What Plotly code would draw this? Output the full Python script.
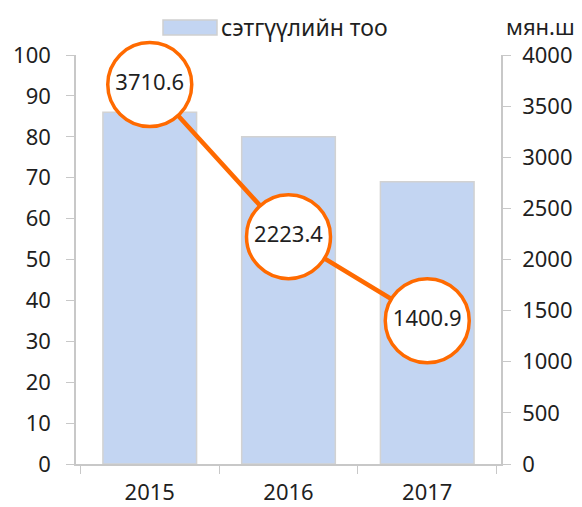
import plotly.graph_objects as go

years = ["2015", "2016", "2017"]
journal_counts = [86, 80, 69]
circulation = [3710.6, 2223.4, 1400.9]
bar_name = "сэтгүүлийн тоо"
right_unit = "мян.ш"

W, H = 582, 507
ml, mr, mt, mb = 76, 81, 55, 43
PW, PH = W - ml - mr, H - mt - mb
font_fam = "Noto Sans, Open Sans, sans-serif"
txt_col = "#1f1f1f"
axis_col = "#c8c8c8"
orange = "#ff6a00"
bar_col = "#c3d5f2"
fs = 22

fig = go.Figure()
fig.add_trace(go.Bar(
    x=years, y=journal_counts, name=bar_name,
    marker=dict(color=bar_col, line=dict(color="#d2d2d2", width=1.5)),
    yaxis="y", showlegend=False,
))
fig.add_trace(go.Scatter(
    x=years, y=circulation, yaxis="y2", mode="lines+markers+text",
    line=dict(color=orange, width=4.5),
    marker=dict(size=84, color="white", line=dict(color=orange, width=3.5)),
    text=[f"{v:.1f}" for v in circulation], textposition="middle center",
    textfont=dict(size=fs, color=txt_col, family=font_fam),
    showlegend=False, cliponaxis=False,
))

common = dict(ticks="outside", tickcolor=axis_col, showline=True, linecolor=axis_col,
              linewidth=1.5, showgrid=False, zeroline=False, automargin=False,
              tickfont=dict(size=fs))
fig.update_layout(
    width=W, height=H,
    margin=dict(l=ml, r=mr, t=mt, b=mb),
    paper_bgcolor="white", plot_bgcolor="white",
    font=dict(family=font_fam, size=fs, color=txt_col),
    bargap=0.325,
    xaxis=dict(type="category", tickson="boundaries", ticklen=8, ticklabelstandoff=8,
               **common),
    yaxis=dict(range=[0, 100], dtick=10, ticklen=8, ticklabelstandoff=11, **common),
    yaxis2=dict(range=[0, 4000], dtick=500, overlaying="y", side="right", ticklen=8,
                ticklabelstandoff=7, **common),
    showlegend=False,
)

# custom legend swatch + label
fig.add_shape(type="rect", xref="paper", yref="paper",
              x0=(163 - ml) / PW, x1=(217 - ml) / PW,
              y0=(H - mb - 35) / PH, y1=(H - mb - 20) / PH,
              fillcolor=bar_col, line=dict(color="#cfcfcf", width=1.5))
fig.add_annotation(xref="paper", yref="paper",
                   x=(219 - ml) / PW, y=(H - mb - 27) / PH,
                   xanchor="left", yanchor="middle", text=bar_name, showarrow=False,
                   font=dict(size=23, color=txt_col))
fig.add_annotation(xref="paper", yref="paper",
                   x=(504 - ml) / PW, y=(H - mb - 26) / PH,
                   xanchor="left", yanchor="middle", text=right_unit, showarrow=False,
                   font=dict(size=fs, color=txt_col))

fig.write_html("out.html", config={"displayModeBar": False},
               post_script="document.body.style.margin='0px';document.body.style.overflow='hidden';")
